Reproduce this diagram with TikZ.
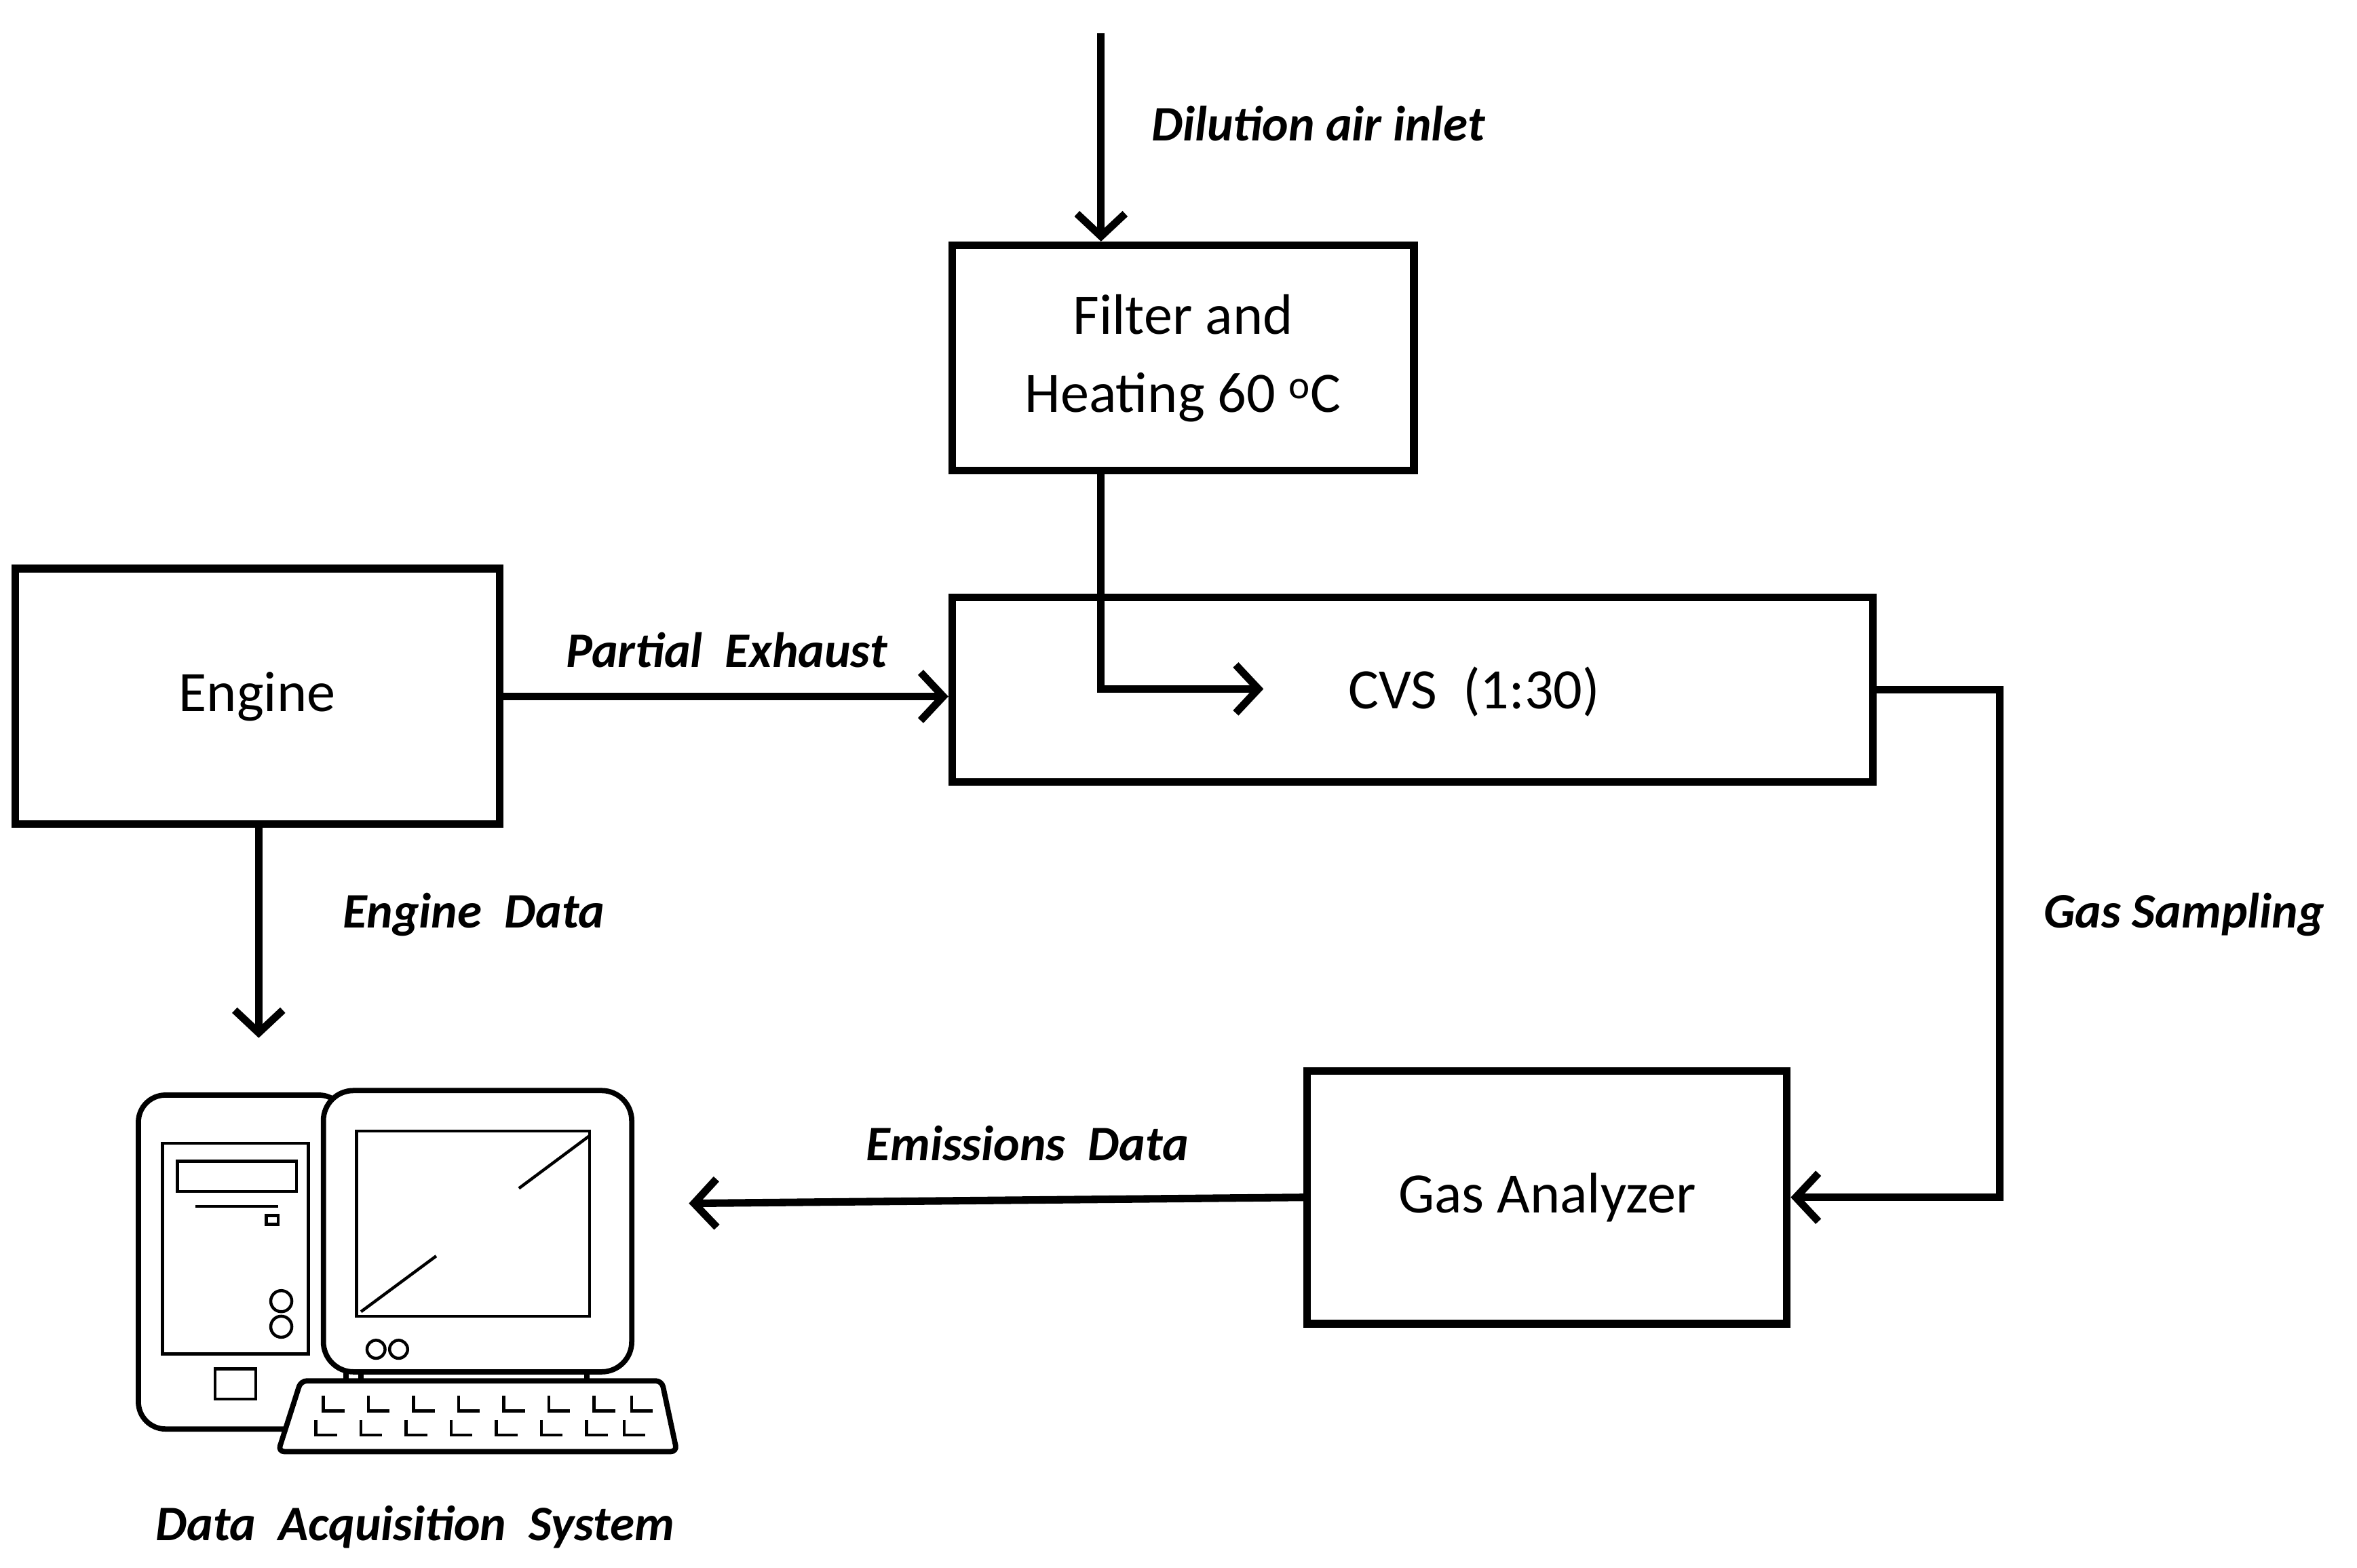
\documentclass[tikz,border=0pt]{standalone}
\usepackage{fontspec}
\setmainfont{Carlito}
\usetikzlibrary{arrows.meta}
\begin{document}
\begin{tikzpicture}[x=1pt,y=-1pt,
  box/.style={draw,line width=5pt,inner sep=0pt,font=\fontsize{38}{52}\selectfont,align=center},
  conn/.style={line width=5pt,-{Straight Barb[length=15pt,width=32pt,line width=5pt]}},
  lbl/.style={font=\fontsize{33}{38}\selectfont\bfseries\itshape},
  ic/.style={line width=3.5pt}]
\useasboundingbox (0,0) rectangle (1567,1042);
\node[box,minimum width=307pt,minimum height=150pt] (filter) at (786.5,238) {Filter and\\Heating 60 \textsuperscript{o}C};
\node[box,minimum width=322pt,minimum height=170pt] (engine) at (171,463) {Engine};
\node[box,minimum width=612pt,minimum height=123pt] (cvs) at (939,458.5) {};
\node[font=\fontsize{38}{45}\selectfont] (cvst) at (980,460) {CVS\ \ (1:30)};
\node[box,minimum width=319pt,minimum height=168pt] (gas) at (1028.5,796) {Gas Analyzer};
\coordinate (top) at (732,22);
\coordinate (mix) at (840,458);
\coordinate (pc) at (172,690);
\coordinate (pcr) at (458,800);
\draw[conn] (top) -- (filter.north -| top);
\node[lbl,anchor=west] at (762,82) {Dilution\ air\ inlet};
\draw[conn] (filter.south -| top) |- (mix);
\draw[conn] (engine.east) -- (engine.east -| cvs.west);
\node[lbl] at (483,432) {Partial\ \ Exhaust};
\draw[conn] (engine.south -| pc) -- (pc);
\node[lbl] at (315,608) {Engine\ \ Data};
\draw[conn] (cvs.east) -- ++(82,0) |- (gas.east);
\node[lbl] at (1452,608) {Gas\ Sampling};
\draw[conn] (gas.west) -- (pcr);
\node[lbl] at (683,760) {Emissions\ \ Data};
% computer icon
\draw[ic,rounded corners=18pt] (92,728) rectangle (230,950);
\draw[line width=2pt] (108,760) rectangle (205,900);
\draw[line width=2pt] (118,772) rectangle (197,792);
\draw[line width=2pt] (130,802) -- (185,802);
\draw[line width=2pt] (177,808) rectangle (185,814);
\draw[line width=2pt] (187,865) circle (7);
\draw[line width=2pt] (187,882) circle (7);
\draw[line width=2pt] (143,910) rectangle (170,930);
\draw[ic,fill=white,rounded corners=20pt] (215,725) rectangle (420,912);
\draw[line width=2pt] (237,752) rectangle (392,875);
\draw[line width=2pt] (345,790) -- (392,755);
\draw[line width=2pt] (240,872) -- (290,835);
\draw[line width=2pt] (250,897) circle (6);
\draw[line width=2pt] (265,897) circle (6);
\draw[ic,fill=white] (240,912) rectangle (390,922);
\draw[ic,fill=white,rounded corners=4pt] (200,918) -- (440,918) -- (450,965) -- (185,965) -- cycle;
\foreach \x in {215,245,275,305,335,365,395,420}{
  \draw[line width=2pt] (\x,928) -- (\x,938) -- (\x+14,938);
  \draw[line width=2pt] (\x-5,944) -- (\x-5,954) -- (\x+9,954);}
\node[lbl] at (276,1015) {Data\ \ Acquisition\ \ System};
\end{tikzpicture}
\end{document}
